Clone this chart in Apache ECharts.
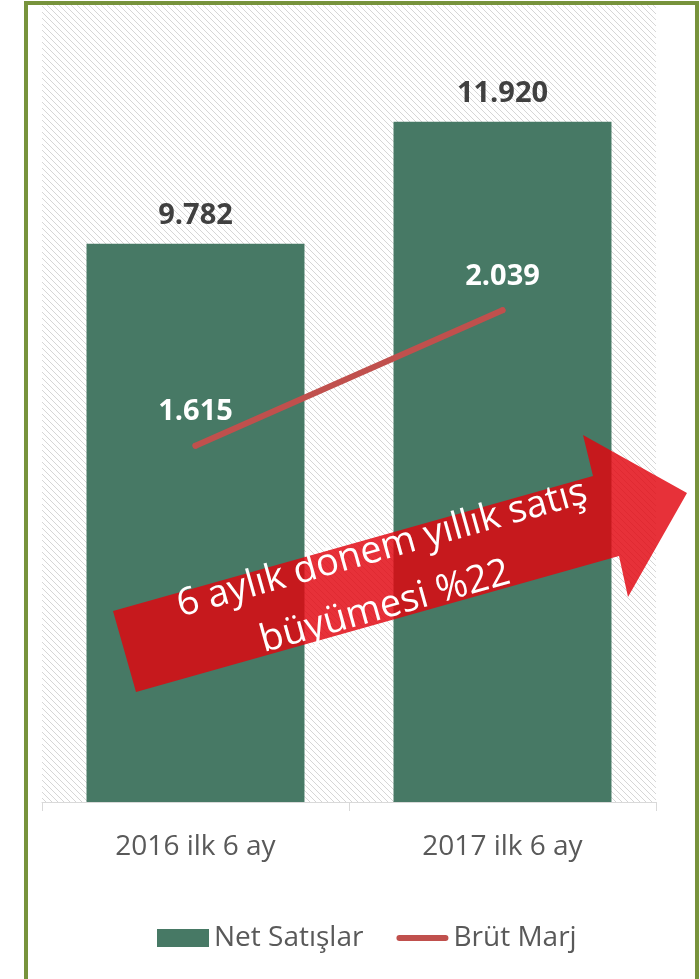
<!DOCTYPE html>
<html><head><meta charset="utf-8">
<script src="https://cdn.jsdelivr.net/npm/echarts@6/dist/echarts.min.js"></script>
<style>html,body{margin:0;padding:0;background:#fff}#c{width:700px;height:979px}</style>
</head><body><div id="c"></div>
<script>
// ---- data ----
const categories = ['2016 ilk 6 ay', '2017 ilk 6 ay'];
const netSales = [9782, 11920];
const grossMargin = [1615, 2039];
const seriesNames = ['Net Satışlar', 'Brüt Marj'];
const arrowText = ['6 aylık dönem yıllık satış', 'büyümesi %22'];

const FONT = '"Open Sans", "Noto Sans", sans-serif';
function fmt(v) { return String(v).replace(/\B(?=(\d{3})+(?!\d))/g, '.'); }

// hatch pattern for plot background
const pc = document.createElement('canvas');
pc.width = 6; pc.height = 6;
const g = pc.getContext('2d');
g.fillStyle = '#ffffff'; g.fillRect(0, 0, 6, 6);
g.fillStyle = '#d6d6d6';
for (let i = 0; i < 6; i++) g.fillRect(i, i, 1, 1);

const chart = echarts.init(document.getElementById('c'), null, { renderer: 'canvas' });
chart.setOption({
  animation: false,
  backgroundColor: '#ffffff',
  grid: {
    left: 42, right: 44, top: 3, bottom: 177,
    show: true, borderWidth: 0,
    backgroundColor: { image: pc, repeat: 'repeat' }
  },
  legend: {
    left: 157, top: 924, padding: 0,
    itemWidth: 52, itemHeight: 18, itemGap: 33,
    textStyle: { color: '#595959', fontSize: 28, fontFamily: FONT, lineHeight: 28 },
    data: [
      { name: seriesNames[0], icon: 'rect' },
      { name: seriesNames[1], icon: 'path://M3,0 L49,0 A3,3 0 0 1 49,6 L3,6 A3,3 0 0 1 3,0 Z' }
    ]
  },
  xAxis: {
    type: 'category',
    data: categories,
    axisLine: { lineStyle: { color: '#d9d9d9', width: 1 } },
    axisTick: { show: true, length: 9, lineStyle: { color: '#d9d9d9' } },
    axisLabel: { color: '#595959', fontSize: 28, fontFamily: FONT, margin: 31 }
  },
  yAxis: [
    { type: 'value', min: 0, max: 14000, show: false, splitLine: { show: false } },
    { type: 'value', min: 500, max: 3000, show: false, splitLine: { show: false } }
  ],
  series: [
    {
      name: seriesNames[0], type: 'bar', data: netSales,
      barCategoryGap: '29%',
      itemStyle: { color: '#477965' },
      label: {
        show: true, position: 'top', distance: 13,
        color: '#404040', fontWeight: 'bold', fontSize: 29, fontFamily: FONT,
        formatter: p => fmt(p.value)
      }
    },
    {
      name: seriesNames[1], type: 'line', yAxisIndex: 1, data: grossMargin,
      symbol: 'circle', symbolSize: 6,
      itemStyle: { color: '#C0504D' },
      lineStyle: { color: '#C0504D', width: 6, cap: 'round' },
      label: {
        show: true, position: 'top', distance: 16,
        color: '#ffffff', fontWeight: 'bold', fontSize: 29, fontFamily: FONT,
        formatter: p => fmt(p.value)
      },
      z: 5
    }
  ],
  graphic: [
    {
      type: 'polygon', z: 100,
      shape: { points: [[113, 611], [593, 476], [583, 435], [687, 493], [628, 597], [619, 556], [136, 692]] },
      style: { fill: 'rgba(226,4,14,0.82)' }
    },
    {
      type: 'text', z: 101,
      x: 382, y: 549, rotation: 0.274,
      style: {
        text: arrowText[0], fill: '#ffffff',
        fontSize: 38, fontFamily: FONT,
        align: 'center', verticalAlign: 'middle'
      }
    },
    {
      type: 'text', z: 101,
      x: 385, y: 607, rotation: 0.274,
      style: {
        text: arrowText[1], fill: '#ffffff',
        fontSize: 38, fontFamily: FONT,
        align: 'center', verticalAlign: 'middle'
      }
    },
    {
      type: 'rect', z: 102,
      shape: { x: 26, y: 3, width: 671, height: 990 },
      style: { fill: 'none', stroke: '#77933C', lineWidth: 4 }
    }
  ]
});
</script>
</body></html>
